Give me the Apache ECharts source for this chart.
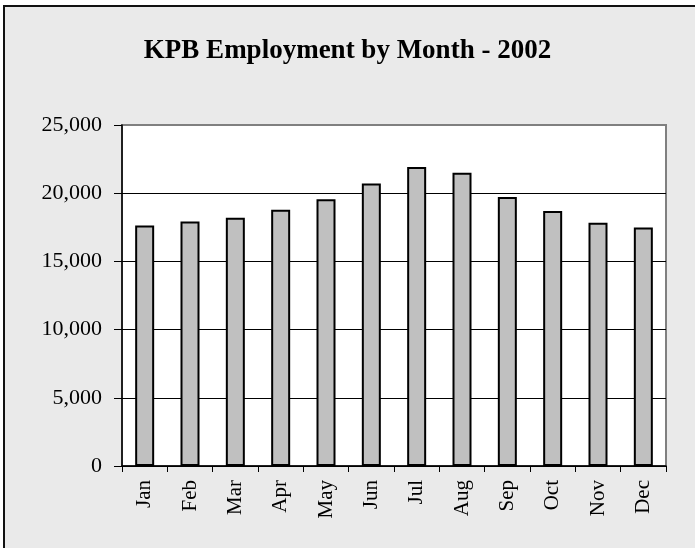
<!DOCTYPE html>
<html lang="en">
<head>
    <meta charset="UTF-8">
    <title>KPB Employment by Month - 2002</title>
    <style>
        html, body { margin: 0; padding: 0; background: #fff; overflow: hidden; }
        #frame {
            position: absolute; left: 3px; top: 5px; width: 720px; height: 580px;
            background: #eaeaea; border-left: 2px solid #111; border-top: 2px solid #111;
        }
        #container { position: absolute; left: 0; top: 0; width: 695px; height: 548px; }
    </style>
</head>
<body>
    <div id="frame"></div>
    <div id="container"></div>
    <script src="https://cdn.jsdelivr.net/npm/echarts@6/dist/echarts.min.js"></script>
    <script>
        var months = ['Jan', 'Feb', 'Mar', 'Apr', 'May', 'Jun', 'Jul', 'Aug', 'Sep', 'Oct', 'Nov', 'Dec'];
        var employment = [17640, 17930, 18200, 18790, 19550, 20720, 21920, 21500, 19720, 18690, 17830, 17490];
        var yTicks = [0, 5000, 10000, 15000, 20000, 25000];

        var serif = '"Liberation Serif", "DejaVu Serif", serif';
        var myChart = echarts.init(document.getElementById('container'));

        // gridlines black, except the top one which is the gray plot border
        var gridColors = yTicks.map(function (v, i) {
            return i === yTicks.length - 1 ? '#808080' : '#000';
        });

        var option = {
            animation: false,
            title: {
                text: 'KPB Employment by Month - 2002',
                left: 'center',
                top: 33,
                textStyle: { fontFamily: serif, fontSize: 27, fontWeight: 'bold', color: '#000' }
            },
            grid: {
                left: 122, top: 125, right: 29, bottom: 82,
                show: true,
                backgroundColor: '#fff',
                borderColor: '#808080',
                borderWidth: 2
            },
            xAxis: {
                type: 'category',
                data: months,
                axisLine: { lineStyle: { color: '#000', width: 1.5 } },
                axisTick: { show: true, length: 6, lineStyle: { color: '#000' } },
                axisLabel: {
                    rotate: 90, margin: 14, color: '#000',
                    fontFamily: serif, fontSize: 21
                }
            },
            yAxis: {
                type: 'value',
                min: yTicks[0],
                max: yTicks[yTicks.length - 1],
                interval: 5000,
                axisLine: { show: true, lineStyle: { color: '#000', width: 1.5 } },
                axisTick: { show: true, length: 8, lineStyle: { color: '#000' } },
                axisLabel: {
                    margin: 20, color: '#000', fontFamily: serif, fontSize: 22,
                    formatter: function (v) { return v.toLocaleString('en-US'); }
                },
                splitLine: { show: true, lineStyle: { color: gridColors, width: 1 } }
            },
            series: [{
                type: 'bar',
                data: employment,
                barWidth: 19,
                itemStyle: { color: '#c0c0c0', borderColor: '#000', borderWidth: 2 }
            }]
        };

        myChart.setOption(option);
    </script>
</body>
</html>
